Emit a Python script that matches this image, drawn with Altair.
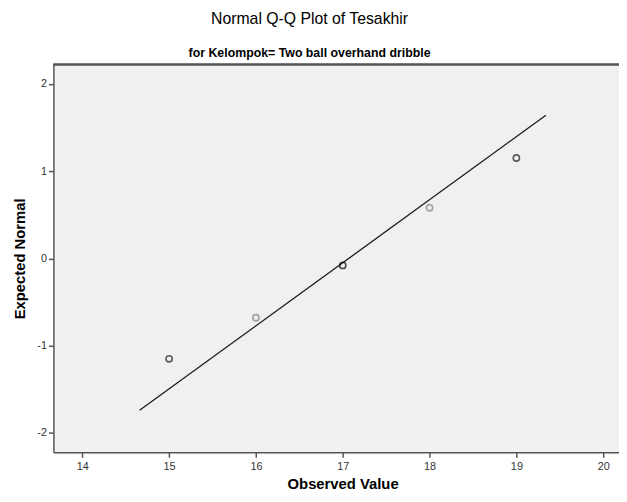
import altair as alt
import pandas as pd

# Data
observed = [15, 16, 17, 18, 19]
expected = [-1.15, -0.68, -0.08, 0.58, 1.15]
overlap = [2, 1, 3, 1, 2]          # darker circles = tied (overplotted) cases

line_x = [14.66, 19.34]
line_y = [-1.74, 1.64]

x_ticks = [14, 15, 16, 17, 18, 19, 20]
y_ticks = [-2, -1, 0, 1, 2]

pts = pd.DataFrame({"obs": observed, "exp": expected, "n": overlap})
ref = pd.DataFrame({"obs": line_x, "exp": line_y})

W, H = 573, 393
FONT = "Liberation Sans"
AX = "#555555"

xs = alt.Scale(domain=[13.667, 20.182], nice=False, zero=False)
ys = alt.Scale(domain=[-2.222, 2.222], nice=False, zero=False)

x_axis = alt.Axis(values=x_ticks, title="Observed Value", grid=False,
                  domainColor=AX, domainWidth=1.5, tickColor=AX, tickWidth=1.5,
                  tickSize=5, labelFont=FONT, labelFontSize=11, labelColor="#333333",
                  labelPadding=3, labelExpr="'' + datum.value",
                  titleFont=FONT, titleFontSize=15,
                  titleFontWeight="bold", titleColor="#000000",
                  titleX=293, titleY=37, titleBaseline="alphabetic")
y_axis = alt.Axis(values=y_ticks, title="Expected Normal", grid=False,
                  domainColor=AX, domainWidth=1.5, tickColor=AX, tickWidth=1.5,
                  tickSize=5, labelFont=FONT, labelFontSize=11, labelColor="#333333",
                  labelPadding=2, labelExpr="'' + datum.value",
                  titleFont=FONT, titleFontSize=15,
                  titleFontWeight="bold", titleColor="#000000",
                  titleX=-34, titleY=H / 2, titleBaseline="middle")

border = alt.Chart(pts).mark_rule(color=AX, strokeWidth=1.5).encode(
    x=alt.value(0), x2=alt.value(W + 10), y=alt.value(0)
)

line = alt.Chart(ref).mark_line(color="#1a1a1a", strokeWidth=1.3).encode(
    x=alt.X("obs:Q", scale=xs, axis=x_axis),
    y=alt.Y("exp:Q", scale=ys, axis=y_axis),
)

points = alt.Chart(pts).mark_point(shape="circle", filled=False, size=40,
                                   strokeWidth=1.6).encode(
    x=alt.X("obs:Q", scale=xs, axis=x_axis),
    y=alt.Y("exp:Q", scale=ys, axis=y_axis),
    color=alt.Color("n:O", scale=alt.Scale(domain=[1, 2, 3],
                    range=["#808080", "#1a1a1a", "#000000"]), legend=None),
)

chart = alt.layer(line, points, border).properties(
    width=W, height=H,
    autosize=alt.AutoSizeParams(type="none"),
    padding={"left": 46, "top": 54, "right": 0, "bottom": 39},
    background="#ffffff",
    title=alt.TitleParams(
        text="Normal Q-Q Plot of Tesakhir",
        subtitle="for Kelompok= Two ball overhand dribble",
        anchor="middle", frame="group", dx=-27, offset=4,
        font=FONT, fontSize=16, fontWeight="normal", color="#000000",
        subtitleFont=FONT, subtitleFontSize=12.5, subtitleFontWeight="bold",
        subtitleColor="#000000", subtitlePadding=21,
    ),
).configure_view(fill="#F0F0F0", stroke="transparent")

chart.save("out.html", embed_options={"renderer": "svg", "actions": False})
